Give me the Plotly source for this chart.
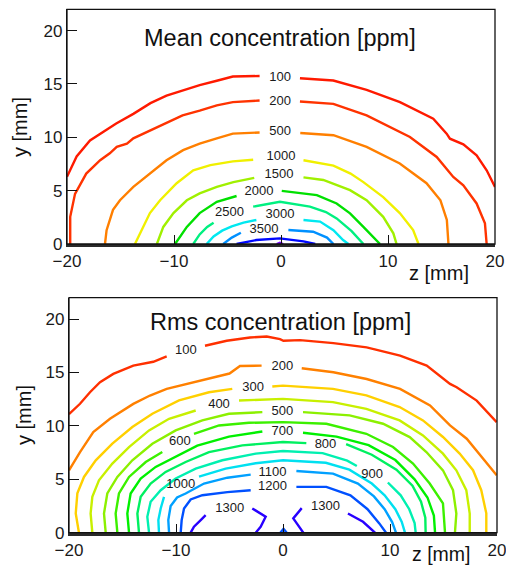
import plotly.graph_objects as go

FONT = "Liberation Sans, Arial, sans-serif"

# ---------------- Mean concentration [ppm] : contour polylines (z [mm], y [mm]) ----------------
# None leaves the gap where the level label sits
mean_100_z = [-20.0, -19.1, -17.85, -16.9, -15.4, -13.8, -12.2, -10.7, -9.2, -7.6, -6.0, -4.5, -2.0, None,
              1.77, 4.89, 8.0, 11.12, 14.23, 15.48, 15.79, 17.04, 18.28, 19.22, 20.0]
mean_100_y = [6.3, 8.2, 9.7, 10.3, 11.3, 12.2, 13.2, 13.9, 14.4, 14.9, 15.3, 15.7, 15.75, None,
              15.54, 15.32, 14.45, 13.3, 11.74, 10.34, 9.87, 9.34, 8.31, 6.91, 5.35]

mean_200_z = [-19.7, -19.7, -19.25, -18.2, -16.9, -16.0, -15.35, -14.4, -13.8, -12.2, -10.7, -9.2, -7.6, -6.0,
              -4.5, -2.0, None, 1.77, 4.89, 8.0, 12.05, 14.55, 16.1, 17.04, 18.28, 19.06, 19.22]
mean_200_y = [0.0, 2.55, 4.7, 6.6, 7.85, 8.5, 9.1, 9.4, 9.9, 10.65, 11.4, 12.05, 12.5, 13.0,
              13.3, 13.45, None, 13.36, 13.14, 12.05, 10.03, 8.16, 6.29, 5.51, 3.8, 1.93, 0.0]

mean_500_z = [-16.45, -16.3, -15.7, -15.05, -13.8, -12.25, -10.7, -9.15, -7.6, -6.0, -4.5, -2.0, None,
              1.8, 4.9, 8.0, 11.1, 13.6, 14.9, 15.5, 15.65]
mean_500_y = [0.0, 1.3, 3.2, 4.1, 5.35, 6.6, 7.85, 8.8, 9.4, 9.9, 10.35, 10.45, None,
              10.4, 10.2, 9.1, 7.55, 5.7, 4.1, 2.25, 0.0]

mean_1000_z = [-13.65, -12.9, -12.25, -11.3, -9.75, -8.2, -6.6, -4.5, -2.6, None,
               2.1, 4.9, 6.5, 7.7, 9.55, 11.1, 12.35, 12.85]
mean_1000_y = [0.0, 1.6, 2.9, 4.1, 5.7, 6.9, 7.4, 7.75, 7.9, None,
               7.85, 7.35, 6.6, 5.8, 4.4, 2.9, 1.3, 0.0]

mean_1500_z = [-11.6, -11.0, -10.05, -8.8, -7.6, -6.0, -4.45, -2.5, None,
               2.1, 3.95, 6.45, 8.0, 9.55, 10.5, 10.8]
mean_1500_y = [0.0, 1.6, 2.9, 4.1, 4.75, 5.35, 5.8, 6.2, None,
               6.25, 6.0, 5.05, 4.1, 2.55, 1.0, 0.0]

mean_2000_z = [-9.9, -8.8, -7.6, -6.0, -4.15, None, 0.07, 3.35, 5.2, 6.45, 7.7, 9.25]
mean_2000_y = [0.0, 1.6, 2.9, 3.95, 4.5, None, 4.98, 4.58, 3.8, 2.87, 1.6, 0.0]

mean_2500_z = [-8.2, -7.6, -6.9, -6.3, None, -2.6, -0.1, 2.7, 4.2, 5.2, 6.6, 7.7]
mean_2500_y = [0.0, 0.9, 1.6, 2.0, None, 3.5, 3.96, 3.5, 3.0, 2.4, 1.2, 0.0]

mean_3000_z = [-6.95, -6.3, -5.5, -4.6, -3.5, -2.3, None, 2.1, 3.65, 4.9, 5.8, 6.3]
mean_3000_y = [0.0, 0.7, 1.25, 1.65, 2.0, 2.25, None, 2.25, 2.1, 1.3, 0.37, 0.0]

mean_3500_z = [-5.4, -4.6, -3.75, None, 0.69, 3.0, 4.3, 4.9]
mean_3500_y = [0.0, 0.6, 1.05, None, 1.31, 1.15, 0.6, 0.0]

mean_4000_z = [-4.15, -2.3, -0.1, 2.1, 3.2]
mean_4000_y = [0.0, 0.37, 0.53, 0.25, 0.0]

mean_4500_z = [-0.4, -0.1, 0.2]
mean_4500_y = [0.0, 0.12, 0.0]

mean_levels = [100, 200, 500, 1000, 1500, 2000, 2500, 3000, 3500, 4000, 4500]
mean_colors = ["#ff1a00", "#ff3300", "#ff7f00", "#f0f000", "#a0f000", "#00e000",
               "#00f080", "#00e8f0", "#0090ff", "#0008ff", "#7a00ff"]

mean_label_text = ["100", "200", "500", "1000", "1500", "2000", "2500", "3000", "3500"]
mean_label_z = [-0.09, -0.09, -0.09, 0.0, -0.19, -2.06, -4.81, -0.09, -1.59]
mean_label_y = [15.61, 13.36, 10.5, 8.16, 6.45, 4.89, 2.9, 2.71, 1.36]

# ---------------- Rms concentration [ppm] : contour polylines (z [mm], y [mm]) ----------------
rms_100_z = [-20.0, -18.97, -18.04, -17.1, -15.86, -13.99, -12.12, -10.87, None,
             -7.29, -5.26, -3.08, -1.52, -0.28, 0.04, 1.59, 4.71, 7.82, 10.94, 13.43, 15.61, 16.23, 18.1, 19.97]
rms_100_y = [11.1, 12.07, 13.15, 14.09, 14.87, 15.64, 16.0, 16.5, None,
             17.5, 17.97, 18.28, 18.37, 18.12, 17.97, 18.03, 17.75, 17.35, 16.57, 15.64, 13.93, 13.62, 12.37, 10.35]

rms_200_z = [-20.0, -18.97, -17.73, -16.17, -13.99, -12.43, -10.87, -7.76, -5.0, -4.02, -2.0, None,
             1.75, 4.71, 7.82, 10.94, 13.74, 15.61, 17.17, 18.73, 19.97]
rms_200_y = [5.84, 7.55, 9.42, 10.66, 12.06, 12.84, 13.46, 14.24, 14.9, 15.6, 15.64, None,
             15.39, 15.02, 14.39, 13.46, 11.91, 10.04, 8.8, 6.93, 5.38]

rms_300_z = [-19.07, -19.37, -19.22, -18.6, -17.5, -15.95, -14.08, -12.21, -9.72, -6.92, -4.74, None,
             -1.0, 0.0, 4.67, 7.79, 10.9, 13.08, 14.95, 16.51, 17.76, 18.53, 19.0, 19.0]
rms_300_y = [0.0, 1.81, 3.68, 5.22, 6.78, 8.34, 9.89, 11.14, 12.38, 13.15, 13.47, None,
             13.68, 13.77, 13.47, 12.85, 11.76, 10.51, 8.96, 7.41, 5.85, 3.98, 1.81, 0.0]

rms_400_z = [-17.82, -17.98, -17.82, -17.2, -15.95, -14.39, -12.52, -10.65, -8.16, None,
             -4.11, 0.0, 4.67, 7.79, 10.9, 13.08, 14.95, 16.2, 17.13, 17.45, 17.45]
rms_400_y = [0.0, 1.8, 3.36, 4.91, 6.47, 8.02, 9.58, 10.66, 11.44, None,
             12.37, 12.53, 12.22, 11.6, 10.51, 9.11, 7.4, 5.84, 3.98, 1.8, 0.0]

rms_500_z = [-16.57, -16.73, -16.42, -15.48, -14.08, -12.21, -10.03, -7.54, -5.05, -1.93, None,
             1.87, 6.23, 9.35, 11.84, 13.4, 14.95, 15.89, 16.2, 16.07]
rms_500_y = [0.0, 1.8, 3.67, 5.22, 6.78, 8.33, 9.58, 10.51, 11.13, 11.29, None,
             11.29, 10.98, 10.2, 8.95, 7.55, 5.84, 3.98, 1.8, 0.0]

rms_600_z = [-15.48, -15.64, -15.33, -14.39, -12.83, -11.28, None,
             -8.32, -5.98, -3.18, 0.0, 4.05, 7.79, 10.28, 12.15, 13.71, 14.95, 15.14]
rms_600_y = [0.0, 1.8, 3.67, 5.22, 6.62, 7.55, None,
             9.26, 10.04, 10.29, 10.35, 10.2, 9.26, 8.02, 6.47, 4.6, 2.74, 0.0]

rms_700_z = [-14.39, -14.55, -14.24, -13.3, -11.9, -10.03, -8.01, -5.05, -1.93, None,
             1.87, 5.0, 8.0, 10.5, 12.3, 13.5, 14.1, 14.21]
rms_700_y = [0.0, 1.8, 3.67, 5.07, 6.16, 7.15, 8.15, 9.0, 9.48, None,
             9.36, 9.0, 8.2, 6.8, 5.0, 3.3, 1.6, 0.0]

rms_800_z = [-13.46, -13.61, -13.3, -12.37, -10.97, -9.1, -6.92, -3.8, 0.0, 2.18, None,
             5.9, 8.3, 10.6, 12.1, 12.9, 13.3, 13.33]
rms_800_y = [0.0, 1.8, 3.36, 4.6, 5.69, 6.62, 7.55, 8.18, 8.49, 8.39, None,
             8.3, 7.3, 5.9, 4.4, 2.9, 1.4, 0.0]

rms_900_z = [-12.52, -12.68, -12.37, -11.43, -10.03, -8.16, -5.67, -2.55, 0.0, 3.7, 6.0, 6.9, None,
             9.8, 11.0, 11.8, 12.3, 12.4]
rms_900_y = [0.0, 1.49, 2.89, 3.98, 5.07, 6.0, 6.78, 7.4, 7.65, 7.45, 6.75, 6.25, None,
             4.7, 3.5, 2.2, 0.9, 0.0]

rms_1000_z = [-11.59, -11.65, -11.43, -11.12, None, -7.85, -5.36, -2.55, 0.0, 4.0, 6.2, 8.3, 9.5, 10.5, 11.1, 11.4]
rms_1000_y = [0.0, 1.18, 2.27, 3.36, None, 5.25, 6.0, 6.5, 6.78, 6.55, 5.9, 4.6, 3.5, 2.2, 1.0, 0.0]

rms_1100_z = [-10.65, -10.72, -10.5, -9.9, -9.1, -7.38, -5.2, -3.02, None,
              1.25, 4.67, 7.0, 8.5, 9.5, 10.2, 10.56]
rms_1100_y = [0.0, 1.18, 2.5, 3.3, 3.67, 4.6, 5.15, 5.44, None,
              5.78, 5.53, 4.6, 3.4, 2.2, 1.0, 0.0]

rms_1200_z = [-9.56, -9.47, -9.25, -8.63, -7.54, -5.2, -3.02, None,
              1.25, 4.05, 6.3, 7.9, 9.0, 9.63, None,
              -0.25, 0.05, 0.35]
rms_1200_y = [0.0, 1.18, 2.27, 3.11, 3.51, 3.8, 3.98, None,
              4.29, 4.29, 3.5, 2.2, 0.87, 0.0, None,
              0.0, 0.35, 0.0]

rms_1300_z = [-8.63, -8.32, -7.69, -7.23, None, -2.87, -1.62, -2.09, -2.55, None,
              1.9, 0.96, 1.75, None, 6.07, 7.48, 8.6]
rms_1300_y = [0.0, 0.56, 1.18, 1.65, None, 2.27, 1.49, 0.56, 0.0, None,
              0.0, 1.34, 2.3, None, 1.8, 1.02, 0.0]

rms_levels = [100, 200, 300, 400, 500, 600, 700, 800, 900, 1000, 1100, 1200, 1300]
rms_colors = ["#ff3000", "#ff8000", "#ffd000", "#c8f000", "#8cf000", "#3cf000", "#00f000",
              "#00f060", "#00f0b0", "#00e0f0", "#00a0ff", "#0050ff", "#2800ff"]

rms_label_text = ["100", "200", "300", "400", "500", "600", "700", "800", "900",
                  "1000", "1100", "1200", "1300", "1300"]
rms_label_z = [-9.07, -0.05, -2.79, -5.98, -0.05, -9.64, -0.05, 3.97, 8.33,
               -9.56, -0.98, -0.98, -4.97, 3.97]
rms_label_y = [17.04, 15.49, 13.54, 11.96, 11.35, 8.49, 9.42, 8.26, 5.38,
               4.45, 5.62, 4.29, 2.26, 2.42]

mean_lines = [(mean_100_z, mean_100_y), (mean_200_z, mean_200_y), (mean_500_z, mean_500_y),
              (mean_1000_z, mean_1000_y), (mean_1500_z, mean_1500_y), (mean_2000_z, mean_2000_y),
              (mean_2500_z, mean_2500_y), (mean_3000_z, mean_3000_y), (mean_3500_z, mean_3500_y),
              (mean_4000_z, mean_4000_y), (mean_4500_z, mean_4500_y)]
rms_lines = [(rms_100_z, rms_100_y), (rms_200_z, rms_200_y), (rms_300_z, rms_300_y),
             (rms_400_z, rms_400_y), (rms_500_z, rms_500_y), (rms_600_z, rms_600_y),
             (rms_700_z, rms_700_y), (rms_800_z, rms_800_y), (rms_900_z, rms_900_y),
             (rms_1000_z, rms_1000_y), (rms_1100_z, rms_1100_y), (rms_1200_z, rms_1200_y),
             (rms_1300_z, rms_1300_y)]

fig = go.Figure()

panels = [
    (mean_lines, mean_levels, mean_colors, mean_label_z, mean_label_y, mean_label_text, "x", "y"),
    (rms_lines, rms_levels, rms_colors, rms_label_z, rms_label_y, rms_label_text, "x2", "y2"),
]
for lines, levels, colors, lz, ly, lt, xa, ya in panels:
    for (zs, ys), lev, col in zip(lines, levels, colors):
        fig.add_trace(go.Scatter(x=zs, y=ys, mode="lines", name=str(lev),
                                 line=dict(color=col, width=2.4),
                                 xaxis=xa, yaxis=ya, hoverinfo="skip", showlegend=False))
    fig.add_trace(go.Scatter(x=lz, y=ly, text=lt, mode="text", textposition="middle center",
                             textfont=dict(family=FONT, size=13, color="#1a1a1a"),
                             xaxis=xa, yaxis=ya, hoverinfo="skip", showlegend=False, cliponaxis=False))

tickfont = dict(family=FONT, size=17, color="#1a1a1a")


def xaxis_style(domain, anchor):
    return dict(domain=domain, anchor=anchor, range=[-20, 20], tickvals=[-20, -10, 0, 10, 20],
                ticks="inside", ticklen=9, tickwidth=1.2, tickcolor="#111",
                showline=True, linewidth=2.6, linecolor="#2a2a2a", automargin=False,
                ticklabeloverflow="allow",
                showgrid=False, zeroline=False, tickfont=tickfont, fixedrange=True)


def yaxis_style(domain, anchor):
    return dict(domain=domain, anchor=anchor, range=[0, 22], tickvals=[0, 5, 10, 15, 20],
                ticks="inside", ticklen=10, tickwidth=1.2, tickcolor="#111",
                showline=True, linewidth=1.4, linecolor="#111", automargin=False,
                ticklabeloverflow="allow",
                showgrid=False, zeroline=False, tickfont=tickfont, fixedrange=True)


W, H = 506, 567
fig.update_layout(
    template="none",
    width=W, height=H,
    margin=dict(l=0, r=0, t=0, b=0, pad=0, autoexpand=False),
    paper_bgcolor="white", plot_bgcolor="white",
    showlegend=False,
    xaxis=xaxis_style([67 / W, 495 / W], "y"),
    yaxis=yaxis_style([1 - 244 / H, 1 - 9.3 / H], "x"),
    xaxis2=xaxis_style([69 / W, 497 / W], "y2"),
    yaxis2=yaxis_style([1 - 532.7 / H, 1 - 297.7 / H], "x2"),
    shapes=[
        dict(type="rect", xref="x domain", yref="y domain", x0=0, x1=1, y0=0, y1=1,
             line=dict(color="#111", width=1.3), layer="above"),
        dict(type="rect", xref="x2 domain", yref="y2 domain", x0=0, x1=1, y0=0, y1=1,
             line=dict(color="#111", width=1.3), layer="above"),
    ],
)

titlefont = dict(family=FONT, size=23.5, color="#111")
axfont = dict(family=FONT, size=20, color="#111")
annotations = [
    dict(text="Mean concentration [ppm]", x=280 / W, y=1 - 38 / H, font=titlefont),
    dict(text="Rms concentration [ppm]", x=280 / W, y=1 - 322 / H, font=titlefont),
    dict(text="y [mm]", x=20 / W, y=1 - 127 / H, font=axfont, textangle=-90),
    dict(text="y [mm]", x=24 / W, y=1 - 415 / H, font=axfont, textangle=-90),
    dict(text="z [mm]", x=438.5 / W, y=1 - 273 / H, font=axfont),
    dict(text="z [mm]", x=441.5 / W, y=1 - 554 / H, font=dict(family=FONT, size=19.5, color="#111")),
]
for a in annotations:
    a.update(xref="paper", yref="paper", showarrow=False, xanchor="center", yanchor="middle")
fig.update_layout(annotations=annotations)

fig.write_html("out.html")
